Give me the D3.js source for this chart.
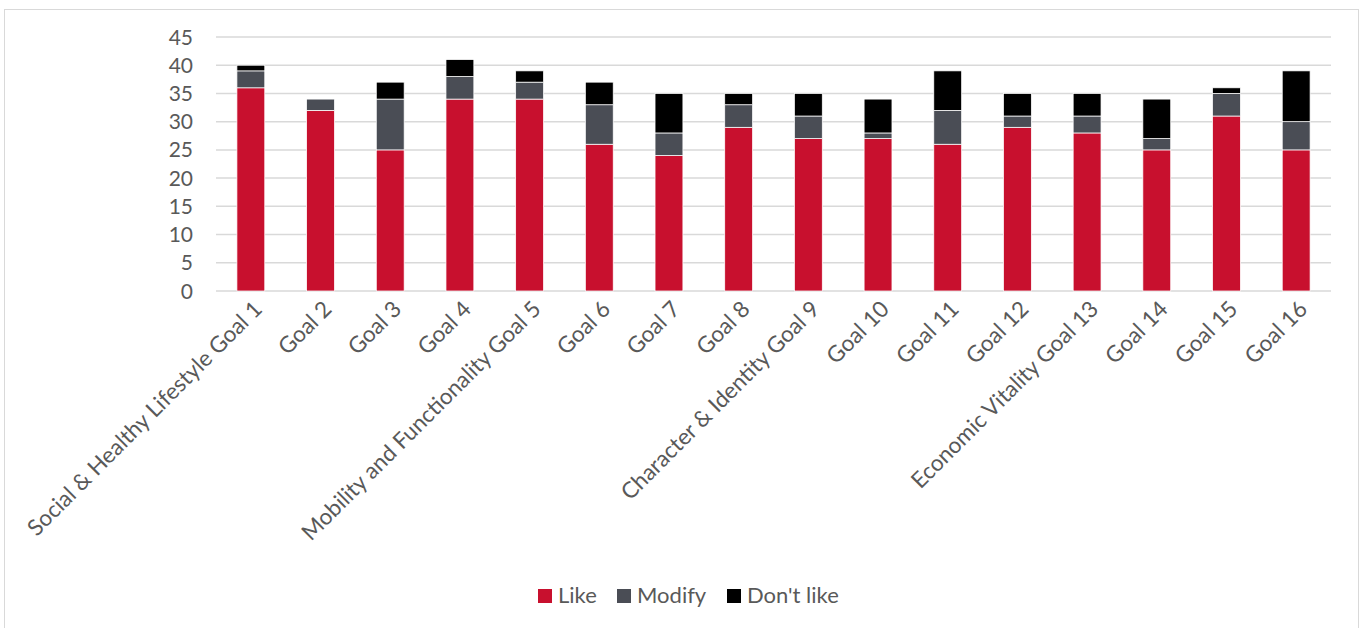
<!DOCTYPE html>
<html><head><meta charset="utf-8">
<script src="https://cdn.jsdelivr.net/npm/d3@7"></script>
<style>
html,body{margin:0;padding:0;background:#fff;}
svg{display:block;}
text{font-family:Lato,"Open Sans",sans-serif;fill:#595959;}
</style></head>
<body><svg id="chart" width="1361" height="628"></svg>
<script>
const categories = ["Social & Healthy Lifestyle Goal 1","Goal 2","Goal 3","Goal 4","Mobility and Functionality Goal 5","Goal 6","Goal 7","Goal 8","Character & Identity Goal 9","Goal 10","Goal 11","Goal 12","Economic Vitality Goal 13","Goal 14","Goal 15","Goal 16"];
const like     = [36,32,25,34,34,26,24,29,27,27,26,29,28,25,31,25];
const modify   = [3,2,9,4,3,7,4,4,4,1,6,2,3,2,4,5];
const dontLike = [1,0,3,3,2,4,7,2,4,6,7,4,4,7,1,9];
const seriesNames = ["Like","Modify","Don't like"];
const seriesColors = ["#C8102E","#4A4D55","#000000"];
const yTicks = [0,5,10,15,20,25,30,35,40,45];

(function(){
const svg = d3.select("#chart");
svg.append("rect").attr("x",4.5).attr("y",9.5).attr("width",1354).attr("height",640)
  .attr("fill","none").attr("stroke","#D9D9D9").attr("stroke-width",1);

const pLeft = 216, pRight = 1331, pTop = 37, pBottom = 291;
const x = d3.scaleBand().domain(categories).range([pLeft,pRight]).paddingInner(0.6).paddingOuter(0.3);
const y = d3.scaleLinear().domain([0,45]).range([pBottom,pTop]);

svg.append("g").selectAll("line").data(yTicks).join("line")
  .attr("x1",pLeft).attr("x2",pRight)
  .attr("y1",d=>y(d)).attr("y2",d=>y(d))
  .attr("stroke","#D9D9D9").attr("stroke-width",1.5);

svg.append("g").selectAll("text").data(yTicks).join("text")
  .attr("x",193).attr("y",d=>y(d)).attr("dy","0.36em")
  .attr("text-anchor","end").attr("font-size",21).text(d=>d);

const rows = categories.map((c,i)=>({cat:c, "Like":like[i], "Modify":modify[i], "Don't like":dontLike[i]}));
const stack = d3.stack().keys(seriesNames)(rows);
const color = d3.scaleOrdinal().domain(seriesNames).range(seriesColors);

svg.append("g").selectAll("g").data(stack).join("g")
  .attr("fill",d=>color(d.key))
  .selectAll("rect").data(d=>d.filter(p=>p[1]-p[0]>0)).join("rect")
  .attr("x",d=>x(d.data.cat)).attr("width",x.bandwidth())
  .attr("y",d=>y(d[1])).attr("height",d=>y(d[0])-y(d[1]))
  .attr("stroke","#ffffff").attr("stroke-width",0.75);

svg.append("g").selectAll("text").data(categories).join("text")
  .attr("transform",d=>`translate(${x(d)+x.bandwidth()/2+7},${pBottom+14}) rotate(-45)`)
  .attr("text-anchor","end").attr("dy","0.35em").attr("font-size",22.5).text(d=>d);

const legX = [538,617,727];
const leg = svg.append("g").selectAll("g").data(seriesNames).join("g")
  .attr("transform",(d,i)=>`translate(${legX[i]},589)`);
leg.append("rect").attr("width",14).attr("height",14).attr("fill",d=>color(d));
leg.append("text").attr("x",20).attr("y",13.5).attr("font-size",22).text(d=>d);
})();
</script></body></html>
